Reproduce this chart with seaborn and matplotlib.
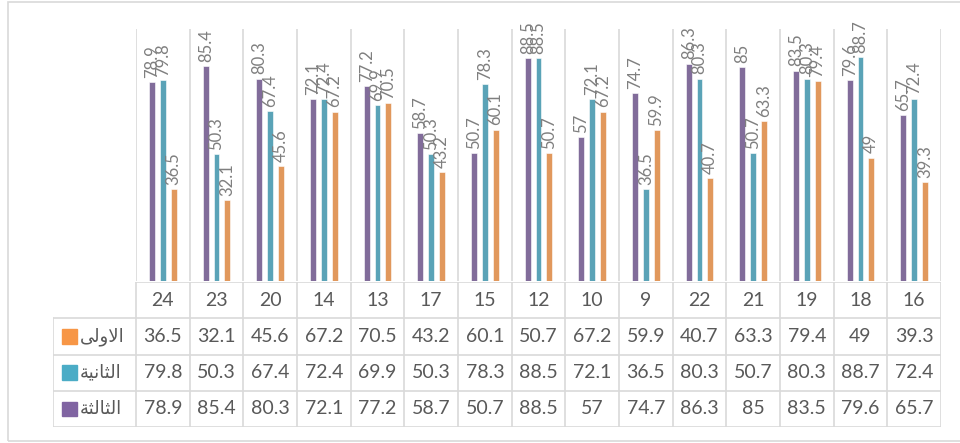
import matplotlib
matplotlib.use("Agg")
import matplotlib.pyplot as plt
import pandas as pd
import seaborn as sns

# --- Data ---------------------------------------------------------------------
categories = ["24", "23", "20", "14", "13", "17", "15", "12", "10", "9", "22", "21", "19", "18", "16"]
series_names = ["الثالثة", "الثانية", "الاولى"]   # left-to-right bar order
third  = [78.9, 85.4, 80.3, 72.1, 77.2, 58.7, 50.7, 88.5, 57, 74.7, 86.3, 85, 83.5, 79.6, 65.7]
second = [79.8, 50.3, 67.4, 72.4, 69.9, 50.3, 78.3, 88.5, 72.1, 36.5, 80.3, 50.7, 80.3, 88.7, 72.4]
first  = [36.5, 32.1, 45.6, 67.2, 70.5, 43.2, 60.1, 50.7, 67.2, 59.9, 40.7, 63.3, 79.4, 49, 39.3]
table_order = ["الاولى", "الثانية", "الثالثة"]   # top-to-bottom rows of the data table

colors = {"الثالثة": "#8064A2", "الثانية": "#4BACC6", "الاولى": "#F79646"}
GRID = "#D9D9D9"
LABEL = "#7F7F7F"
TEXT = "#595959"

values = {"الثالثة": third, "الثانية": second, "الاولى": first}
df = pd.DataFrame([
    {"cat": c, "series": s, "value": v}
    for s in series_names for c, v in zip(categories, values[s])
])


# --- Minimal Arabic shaping (matplotlib has no bidi / joining support) ----------
# forms: (isolated, final, initial, medial); None = letter does not join forward
FORMS = {
    "ا": ("\uFE8D", "\uFE8E", None, None),
    "و": ("\uFEED", "\uFEEE", None, None),
    "ة": ("\uFE93", "\uFE94", None, None),
    "ى": ("\uFEEF", "\uFEF0", None, None),
    "ل": ("\uFEDD", "\uFEDE", "\uFEDF", "\uFEE0"),
    "ث": ("\uFE99", "\uFE9A", "\uFE9B", "\uFE9C"),
    "ن": ("\uFEE5", "\uFEE6", "\uFEE7", "\uFEE8"),
    "ي": ("\uFEF1", "\uFEF2", "\uFEF3", "\uFEF4"),
}
LAM_ALEF = ("\uFEFB", "\uFEFC")  # isolated, final


def shape_arabic(word):
    out = []
    i = 0
    prev_joins = False
    while i < len(word):
        ch = word[i]
        if ch == "ل" and i + 1 < len(word) and word[i + 1] == "ا":
            out.append(LAM_ALEF[1] if prev_joins else LAM_ALEF[0])
            prev_joins = False
            i += 2
            continue
        iso, fin, ini, med = FORMS[ch]
        nxt_ok = i + 1 < len(word) and ini is not None
        if prev_joins and nxt_ok:
            out.append(med)
        elif prev_joins:
            out.append(fin)
        elif nxt_ok:
            out.append(ini)
        else:
            out.append(iso)
        prev_joins = nxt_ok
        i += 1
    return "".join(reversed(out))


# --- Figure -------------------------------------------------------------------
sns.set_style("white")
plt.rcParams["font.family"] = ["Lato", "DejaVu Sans"]

fig = plt.figure(figsize=(9.6, 4.43), dpi=100)
W, H = 960, 443

# chart border
fig.add_artist(plt.Rectangle((8 / W, 2 / H), 1.2, 439 / H, transform=fig.transFigure,
                             fill=False, edgecolor=GRID, linewidth=1.2))

x0, x1 = 136, 941
ax = fig.add_axes([x0 / W, (H - 281) / H, (x1 - x0) / W, (281 - 29) / H])

sns.barplot(data=df, x="cat", y="value", hue="series", hue_order=series_names,
            order=categories, palette=colors, width=0.6, gap=0.45,
            edgecolor="white", linewidth=0.4, ax=ax)

for cont in ax.containers:
    ax.bar_label(cont, fmt="{:g}", rotation=90, padding=3, color=LABEL, fontsize=12)

ax.set_ylim(0, 100)
ax.set_xlim(-0.5, len(categories) - 0.5)
for k in range(len(categories) + 1):
    ax.axvline(k - 0.5, color=GRID, linewidth=1.2, zorder=0)
ax.set_xticks([])
ax.set_yticks([])
ax.set_xlabel("")
ax.set_ylabel("")
ax.legend_.remove()
for sp in ax.spines.values():
    sp.set_visible(False)

# --- Data table ---------------------------------------------------------------
t_left = 53
legend_w = (x0 - t_left) / ((x1 - x0) / len(categories))
tax = fig.add_axes([t_left / W, (H - 427) / H, (x1 - t_left) / W, (427 - 282) / H])
tax.set_xlim(-0.5 - legend_w, len(categories) - 0.5)
tax.set_ylim(0, 4)
tax.axis("off")

xl = -0.5 - legend_w
xr = len(categories) - 0.5
lw = 1.2
tax.plot([-0.5, xr], [4, 4], color=GRID, lw=lw)
for yy in [3, 2, 1, 0]:
    tax.plot([xl, xr], [yy, yy], color=GRID, lw=lw)
tax.plot([xl, xl], [0, 3], color=GRID, lw=lw)
for k in range(len(categories) + 1):
    tax.plot([k - 0.5, k - 0.5], [0, 4], color=GRID, lw=lw)

for j, c in enumerate(categories):
    tax.text(j, 3.5, c, ha="center", va="center", fontsize=14, color=TEXT)

for r, s in enumerate(table_order):
    yc = 2.5 - r
    for j, v in enumerate(values[s]):
        tax.text(j, yc, f"{v:g}", ha="center", va="center", fontsize=14, color=TEXT)
    tax.add_patch(plt.Rectangle((xl + 0.17, yc - 0.2), 0.27, 0.4, color=colors[s]))
    tax.text(xl + 0.5, yc, shape_arabic(s), ha="left", va="center",
             fontsize=13, color=TEXT, family=["DejaVu Sans"])

fig.savefig("out.png", dpi=100)
